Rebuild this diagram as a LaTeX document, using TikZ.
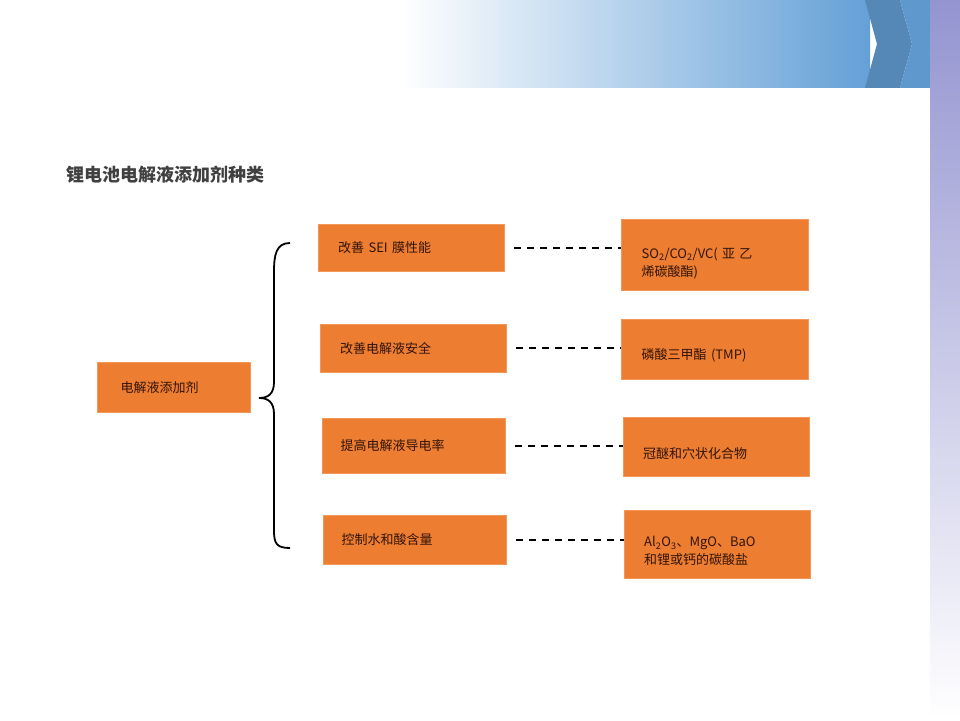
\documentclass[tikz,border=0pt]{standalone}
\usepackage{fontspec}
\setmainfont{Liberation Serif}
\newfontfamily\cjk{Noto Sans CJK SC}
\usetikzlibrary{positioning}
\definecolor{boxorange}{RGB}{237,125,49}
\definecolor{txtdark}{RGB}{50,20,10}
\definecolor{bandblue}{RGB}{100,160,215}
\tikzset{
  item/.style={draw=boxorange!80!white,fill=boxorange,anchor=north west,align=left,
    inner sep=0pt,text=txtdark,font=\cjk\fontsize{13pt}{18pt}\selectfont},
  link/.style={line width=2.2pt,dash pattern=on 7pt off 6pt}
}
\begin{document}
\begin{tikzpicture}[x=1pt,y=-1pt]
\useasboundingbox (0,0) rectangle (960,720);
% background
\fill[white] (0,0) rectangle (960,720);
\shade[left color=white,right color=bandblue] (400,0) rectangle (870,88);
\fill[bandblue!85!black] (865,0) -- (900,0) -- (912,44) -- (900,88) -- (865,88) -- (877,44) -- cycle;
\fill[bandblue!95!black] (900,0) -- (935,0) -- (947,44) -- (935,88) -- (900,88) -- (912,44) -- cycle;
\shade[top color=gray!60!blue!60,bottom color=white] (930,0) rectangle (960,720);
\fill[white] (0,88) rectangle (930,720);
% title
\node[anchor=west,text=black!75,font=\cjk\bfseries\fontsize{18pt}{20pt}\selectfont] (title) at (63,175) {锂电池电解液添加剂种类};
% boxes
\node[item,minimum width=153pt,minimum height=50pt,text width=130pt] (root) at (97,362) {\hspace*{12pt}电解液添加剂};
\node[item,minimum width=186pt,minimum height=47pt,text width=170pt] (m1) at (318,224) {\hspace*{12pt}改善 SEI 膜性能};
\node[item,minimum width=186pt,minimum height=48pt,text width=170pt] (m2) at (320,324) {\hspace*{12pt}改善电解液安全};
\node[item,minimum width=183pt,minimum height=55pt,text width=170pt] (m3) at (322,418) {\hspace*{12pt}提高电解液导电率};
\node[item,minimum width=183pt,minimum height=49pt,text width=170pt] (m4) at (323,515) {\hspace*{12pt}控制水和酸含量};
\node[item,minimum width=187pt,minimum height=71pt,text width=170pt,align=left] (r1) at (621,219)
  {\rule{0pt}{28pt}\hspace*{12pt}SO\textsubscript{2}/CO\textsubscript{2}/VC( 亚\ 乙\\\hspace*{12pt}烯碳酸酯)};
\node[item,minimum width=187pt,minimum height=60pt,text width=170pt] (r2) at (621,319)
  {\rule{0pt}{24pt}\hspace*{12pt}磷酸三甲酯 (TMP)};
\node[item,minimum width=186pt,minimum height=59pt,text width=170pt] (r3) at (623,417)
  {\rule{0pt}{24pt}\hspace*{12pt}冠醚和穴状化合物};
\node[item,minimum width=186pt,minimum height=68pt,text width=170pt] (r4) at (624,510)
  {\rule{0pt}{24pt}\hspace*{12pt}Al\textsubscript{2}O\textsubscript{3}、MgO、BaO\\\hspace*{12pt}和锂或钙的碳酸盐};
% brace
\draw[line width=1.8pt] (290,243) .. controls (276,243) and (274,255) .. (274,272) -- (274,382)
  .. controls (274,394) and (268,398) .. (259,398) .. controls (268,398) and (274,402) .. (274,414)
  -- (274,530) .. controls (274,543) and (276,548) .. (290,548);
% links
\foreach \m/\r in {m1/r1,m2/r2,m3/r3,m4/r4}
  \draw[link] ([xshift=10pt]\m.east) -- (\r.west |- \m.east);
\end{tikzpicture}
\end{document}
